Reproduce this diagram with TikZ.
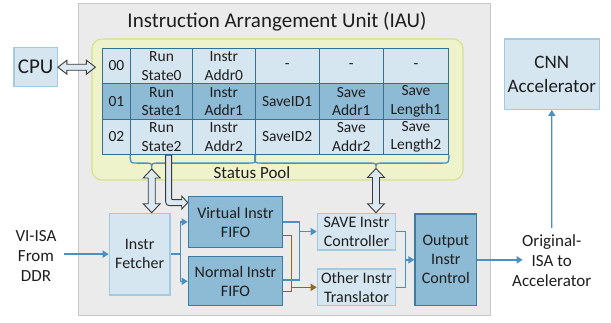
\documentclass[tikz,border=0pt]{standalone}
\usepackage{fontspec}
\setmainfont{Carlito}
\usetikzlibrary{arrows.meta,calc}

\definecolor{iaufill}{HTML}{EBEBEB}
\definecolor{iauline}{HTML}{C8C8C8}
\definecolor{poolfill}{HTML}{EFF3CC}
\definecolor{poolline}{HTML}{D6E28C}
\definecolor{lightfill}{HTML}{D6E6F1}
\definecolor{lightline}{HTML}{A4CAE2}
\definecolor{deepfill}{HTML}{8DBAD5}
\definecolor{deepline}{HTML}{3C7BA2}
\definecolor{gridline}{HTML}{356F92}
\definecolor{flowblue}{HTML}{4A90C2}
\definecolor{flowbrown}{HTML}{8E6A10}
\definecolor{inkgray}{HTML}{1E1E1E}
\definecolor{arrowfill}{HTML}{DCE9F3}
\definecolor{arrowline}{HTML}{3A3A3A}

\newcommand{\fTitle}{\fontsize{21}{24}\selectfont}
\newcommand{\fBlock}{\fontsize{16}{19}\selectfont}
\newcommand{\fTable}{\fontsize{15.5}{18.5}\selectfont}
\newcommand{\fSide}{\fontsize{17}{20}\selectfont}
\newcommand{\fCnn}{\fontsize{19}{24}\selectfont}
\newcommand{\fCpu}{\fontsize{21}{24}\selectfont}

% hollow two-way block arrow, vertical: #1 upper tip, #2 gives the lower tip height
\newcommand{\vtwoway}[2]{%
  \filldraw[blockarrow] let \p1=(#1), \p2=(#2) in
    (\x1,\y1) -- (\x1+8.5pt,\y1-9pt) -- (\x1+3.5pt,\y1-9pt) -- (\x1+3.5pt,\y2+9pt)
    -- (\x1+8.5pt,\y2+9pt) -- (\x1,\y2) -- (\x1-8.5pt,\y2+9pt) -- (\x1-3.5pt,\y2+9pt)
    -- (\x1-3.5pt,\y1-9pt) -- (\x1-8.5pt,\y1-9pt) -- cycle;}

% hollow two-way block arrow, horizontal: #1 left tip, #2 gives the right tip position
\newcommand{\htwoway}[2]{%
  \filldraw[blockarrow] let \p1=(#1), \p2=(#2) in
    (\x1,\y1) -- (\x1+9pt,\y1+7pt) -- (\x1+9pt,\y1+3pt) -- (\x2-9pt,\y1+3pt)
    -- (\x2-9pt,\y1+7pt) -- (\x2,\y1) -- (\x2-9pt,\y1-7pt) -- (\x2-9pt,\y1-3pt)
    -- (\x1+9pt,\y1-3pt) -- (\x1+9pt,\y1-7pt) -- cycle;}

% curly brace under the table: #1 left end, #2 right end, #3 tip
\newcommand{\curlybrace}[3]{%
  \draw[bracepath] let \p1=(#1), \p2=(#2), \p3=(#3) in
    (\x1,\y1) .. controls (\x1,\y1-8pt) .. (\x1+7pt,\y1-8pt)
    -- (\x3-7pt,\y1-8pt) .. controls (\x3,\y1-8pt) .. (\x3,\y3)
    .. controls (\x3,\y1-8pt) .. (\x3+7pt,\y1-8pt)
    -- (\x2-7pt,\y1-8pt) .. controls (\x2,\y1-8pt) .. (\x2,\y2);}

\begin{document}
\begin{tikzpicture}[x=1pt,y=-1pt, font=\fBlock, text=inkgray,
  lightbox/.style={draw=lightline, fill=lightfill, line width=1.2pt, inner sep=0pt, align=center},
  deepbox/.style={draw=deepline, fill=deepfill, line width=1.2pt, inner sep=0pt, align=center},
  cell/.style={draw=gridline, line width=0.9pt, anchor=north west, minimum height=35.5pt,
               inner sep=0pt, align=center, font=\fTable},
  lite/.style={fill=lightfill},
  deep/.style={fill=deepfill},
  flowplain/.style={draw=flowblue, line width=1.4pt},
  flow/.style={flowplain, -{Triangle[length=6pt,width=7pt]}},
  brownplain/.style={draw=flowbrown, line width=1.4pt},
  brownflow/.style={brownplain, -{Triangle[length=6pt,width=7pt]}},
  bracepath/.style={draw=flowblue, line width=1.3pt},
  blockarrow/.style={fill=arrowfill, draw=arrowline, line width=0.9pt, line join=miter},
  sidetext/.style={align=center, font=\fSide, inner sep=1pt}]

\useasboundingbox (0,0) rectangle (611,322);

% Instruction Arrangement Unit frame
\node[draw=iauline, fill=iaufill, line width=1pt, minimum width=412pt, minimum height=312pt,
      inner sep=0pt] (iau) at (284,159) {};
\node[anchor=base, font=\fTitle] (title) at (277,27.3) {Instruction Arrangement Unit (IAU)};

% Status pool
\node[draw=poolline, fill=poolfill, line width=1.2pt, rounded corners=10pt,
      minimum width=371pt, minimum height=141pt, inner sep=0pt] (pool) at (277.5,109.5) {};
\node[anchor=base, font=\fSide] (pooltitle) at (252,178.3) {Status Pool};

% status table, row 0
\node[cell,lite,minimum width=28.6pt] (r0c0) at (101.7,47.7) {00};
\node[cell,lite,minimum width=61.7pt] (r0c1) at (130.3,47.7) {Run\\State0};
\node[cell,lite,minimum width=62.7pt] (r0c2) at (192,47.7) {Instr\\Addr0};
\node[cell,lite,minimum width=64pt]   (r0c3) at (254.7,47.7) {-};
\node[cell,lite,minimum width=64.3pt] (r0c4) at (318.7,47.7) {-};
\node[cell,lite,minimum width=65pt]   (r0c5) at (383,47.7) {-};
% row 1
\node[cell,deep,minimum width=28.6pt] (r1c0) at (101.7,83.2) {01};
\node[cell,deep,minimum width=61.7pt] (r1c1) at (130.3,83.2) {Run\\State1};
\node[cell,deep,minimum width=62.7pt] (r1c2) at (192,83.2) {Instr\\Addr1};
\node[cell,deep,minimum width=64pt]   (r1c3) at (254.7,83.2) {SaveID1};
\node[cell,deep,minimum width=64.3pt] (r1c4) at (318.7,83.2) {Save\\Addr1};
\node[cell,deep,minimum width=65pt]   (r1c5) at (383,83.2) {Save\\Length1};
% row 2
\node[cell,lite,minimum width=28.6pt] (r2c0) at (101.7,118.7) {02};
\node[cell,lite,minimum width=61.7pt] (r2c1) at (130.3,118.7) {Run\\State2};
\node[cell,lite,minimum width=62.7pt] (r2c2) at (192,118.7) {Instr\\Addr2};
\node[cell,lite,minimum width=64pt]   (r2c3) at (254.7,118.7) {SaveID2};
\node[cell,lite,minimum width=64.3pt] (r2c4) at (318.7,118.7) {Save\\Addr2};
\node[cell,lite,minimum width=65pt]   (r2c5) at (383,118.7) {Save\\Length2};

% braces grouping the columns
\coordinate (tipA) at (151.7,169);
\coordinate (tipB) at (376,168.5);
\curlybrace{r2c1.south west}{r2c2.south east}{tipA}
\curlybrace{r2c3.south west}{r2c5.south east}{tipB}

% outside blocks
\node[lightbox, minimum width=43.3pt, minimum height=39pt, font=\fCpu] (cpu) at (35.65,67.2) {CPU};
\node[lightbox, minimum width=95pt, minimum height=70.3pt, font=\fCnn] (cnn) at (551.8,74.15) {CNN\\Accelerator};
\node[sidetext] (viisa) at (36,256) {VI-ISA\\From\\DDR};
\node[sidetext] (orig) at (551.7,261) {Original-\\ISA to\\Accelerator};

% inner blocks
\node[lightbox, minimum width=60.7pt, minimum height=81.7pt] (fetch) at (139.65,254.15) {Instr\\Fetcher};
\node[deepbox, minimum width=94.4pt, minimum height=50.6pt] (vfifo) at (235.5,222) {Virtual Instr\\FIFO};
\node[deepbox, minimum width=94.4pt, minimum height=49pt] (nfifo) at (235.5,281.2) {Normal Instr\\FIFO};
\node[lightbox, minimum width=78.4pt, minimum height=36.7pt] (save) at (356.5,231.65) {SAVE Instr\\Controller};
\node[lightbox, minimum width=78.4pt, minimum height=36.7pt] (other) at (356.5,287.35) {Other Instr\\Translator};
\node[deepbox, minimum width=61.7pt, minimum height=91.7pt] (outc) at (445.85,259.85) {Output\\Instr\\Control};

% instruction input to the fetcher and on to both FIFOs
\draw[flow] ([xshift=6pt]viisa.east |- fetch.west) -- (fetch.west);
\coordinate (fsplit) at ($(fetch.east)+(10,0)$);
\draw[flowplain] (fetch.east) -- (fsplit);
\draw[flow] (fsplit) |- (vfifo.west);
\draw[flow] (fsplit) |- (nfifo.west);

% FIFOs to the other-instruction translator
\coordinate (ojoin) at ($(other.west)+(-25,0)$);
\coordinate (bv) at ($(vfifo.east)+(0,13.7)$);
\coordinate (bn) at ($(nfifo.east)+(0,10.5)$);
\draw[brownplain] (bv) -| (bn -| ojoin) -- (bn);
\draw[brownflow] (ojoin) -- (other.west);

% FIFOs to the SAVE controller
\coordinate (sjoin) at ($(save.west)+(-17,0)$);
\draw[flow] (vfifo.east) -| (sjoin) -- (save.west);
\draw[flowplain] ($(nfifo.east)+(0,-1.2)$) -| (sjoin);

% into the output control
\coordinate (ojn) at ($(outc.west)+(-9,0)$);
\draw[flowplain] (save.east) -| (ojn);
\draw[flowplain] (other.east) -| (ojn);
\draw[flow] (ojn) -- (outc.west);

% output to the accelerator
\coordinate (oend) at ($(orig.center)+(-29,0)$);
\draw[flow] (outc.east) -- (outc.east -| oend);
\draw[flow] ([yshift=6pt]orig.north) -- (cnn.south);

% two-way block arrows
\coordinate (poolin) at ($(pool.west)+(4,0)$);
\htwoway{cpu.east}{poolin}
\vtwoway{tipA}{tipA |- fetch.north}
\vtwoway{tipB}{tipB |- save.north}

% bent block arrow from the run state column into the virtual FIFO
\coordinate (bendtop) at ($(r2c1.south)+(7,0)$);
\coordinate (bendend) at ($(vfifo.north west)+(0,6.5)$);
\filldraw[blockarrow] let \p1=(bendtop), \p2=(bendend) in
  (\x1+3pt,\y1) -- (\x1+3pt,\y2+5pt) .. controls (\x1+3pt,\y2+3pt) .. (\x1+5pt,\y2+3pt)
  -- (\x2-6pt,\y2+3pt) -- (\x2-6pt,\y2+6.5pt) -- (\x2,\y2) -- (\x2-6pt,\y2-6.5pt)
  -- (\x2-6pt,\y2-3pt) -- (\x1+5pt,\y2-3pt)
  .. controls (\x1-3pt,\y2-3pt) and (\x1-3pt,\y2-3pt) .. (\x1-3pt,\y2+5pt)
  -- (\x1-3pt,\y1) -- cycle;

\end{tikzpicture}
\end{document}
